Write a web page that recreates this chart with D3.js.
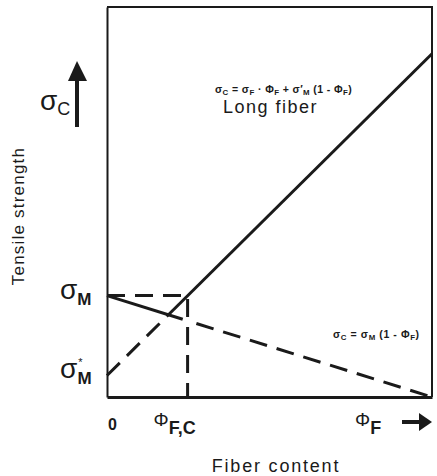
<!DOCTYPE html>
<html>
<head>
<meta charset="utf-8">
<script src="https://cdn.jsdelivr.net/npm/d3@7"></script>
<style>
  html, body { margin: 0; padding: 0; background: #fff; }
  svg { display: block; }
</style>
</head>
<body>
<svg id="chart" width="437" height="476" font-family="'Liberation Sans', Arial, Helvetica, sans-serif" fill="#1a1a1a"></svg>
<script>
// Fiber volume fraction (0..1) and strength levels (relative units)
const fiberFraction = [0, 1];
const strengthLevels = { sigmaM: 26, sigmaMStar: 5.5, sigmaF: 88 };
// Long-fiber composite line: sigma_M* at 0, sigma_F at full fiber content
const longFiberLine = [[0, 5.5], [1, 88]];
// Matrix-dominated line: sigma_M at 0, zero at full fiber content
const matrixLine = [[0, 26], [1, 0]];
// Where the two lines cross, and the critical fiber fraction
const crossingPhi = 0.189;
const criticalPhi = 0.248;
const xTickLabels = ["0", "Φ|F,C", "Φ|F"];

const svg = d3.select("#chart");
const ink = "#1a1a1a";

const x = d3.scaleLinear().domain(fiberFraction).range([107, 432]);
const y = d3.scaleLinear().domain([0, 100]).range([397, 7]);

const line = d3.line().x(d => x(d[0])).y(d => y(d[1]));

function along(seg, t) {
  // point on a segment at fiber fraction t
  const [a, b] = seg;
  const f = (t - a[0]) / (b[0] - a[0]);
  return [t, a[1] + (b[1] - a[1]) * f];
}

// Frame: bottom and left axes, top and right borders
svg.append("g")
  .attr("transform", `translate(0,${y(0)})`)
  .call(d3.axisBottom(x).tickValues([]).tickSizeOuter(0))
  .call(g => g.select(".domain").attr("stroke", ink).attr("stroke-width", 3));
svg.append("g")
  .attr("transform", `translate(${x(0)},0)`)
  .call(d3.axisLeft(y).tickValues([]).tickSizeOuter(0))
  .call(g => g.select(".domain").attr("stroke", ink).attr("stroke-width", 2));
svg.append("path")
  .attr("d", line([[0, 100], [1, 100], [1, 0]]))
  .attr("fill", "none").attr("stroke", ink).attr("stroke-width", 2);

const dash = "18,10";

// Long fiber: dashed until crossing, solid afterwards
svg.append("path")
  .attr("d", line([longFiberLine[0], along(longFiberLine, crossingPhi)]))
  .attr("fill", "none").attr("stroke", ink).attr("stroke-width", 3)
  .attr("stroke-dasharray", dash);
svg.append("path")
  .attr("d", line([along(longFiberLine, crossingPhi), longFiberLine[1]]))
  .attr("fill", "none").attr("stroke", ink).attr("stroke-width", 3);

// Matrix line: solid until critical fraction, dashed afterwards
svg.append("path")
  .attr("d", line([matrixLine[0], along(matrixLine, criticalPhi - 0.015)]))
  .attr("fill", "none").attr("stroke", ink).attr("stroke-width", 3);
svg.append("path")
  .attr("d", line([along(matrixLine, criticalPhi + 0.027), matrixLine[1]]))
  .attr("fill", "none").attr("stroke", ink).attr("stroke-width", 3)
  .attr("stroke-dasharray", dash);

// Dashed guides at sigma_M and the critical fraction
svg.append("path")
  .attr("d", line([[0, strengthLevels.sigmaM], [criticalPhi, strengthLevels.sigmaM], [criticalPhi, 0]]))
  .attr("fill", "none").attr("stroke", ink).attr("stroke-width", 3)
  .attr("stroke-dasharray", dash);

// Helper for text with a subscript
function subText(px, py, main, sub, size, subSize, opts = {}) {
  const t = svg.append("text").attr("x", px).attr("y", py)
    .attr("font-size", size).attr("font-weight", opts.weight || "normal");
  t.append("tspan").text(main);
  if (opts.sup) {
    t.append("tspan").attr("dx", 1).attr("dy", -12).attr("font-size", 11).text(opts.sup);
    t.append("tspan").attr("dx", -5).attr("dy", (opts.dy || 5) + 12).attr("font-size", subSize)
      .attr("font-weight", opts.subWeight || "bold").text(sub);
  } else {
    t.append("tspan").attr("dy", opts.dy || 5).attr("font-size", subSize)
      .attr("font-weight", opts.subWeight || "bold").text(sub);
  }
  return t;
}

// Y-level labels
subText(60, y(strengthLevels.sigmaM) + 3, "σ", "M", 28, 17, { dy: 6 });
subText(60, y(strengthLevels.sigmaMStar) + 2, "σ", "M", 28, 17, { dy: 6, sup: "*" });

// X tick labels
const tickPos = [0, criticalPhi, 1];
xTickLabels.forEach((lab, i) => {
  const [m, s] = lab.split("|");
  if (!s) {
    svg.append("text").attr("x", x(tickPos[i]) + 1).attr("y", 430)
      .attr("font-size", 16).attr("font-weight", "bold").text(m);
  } else {
    const px = i === 1 ? x(tickPos[i]) - 34 : x(tickPos[i]) - 77;
    subText(px, 426, m, s, 19, 18, { dy: 8 });
  }
});

// Arrow along fiber content
svg.append("path")
  .attr("d", `M${x(1) - 30},${422} L${x(1) - 12},${422}`)
  .attr("stroke", ink).attr("stroke-width", 4);
svg.append("path")
  .attr("d", `M${x(1) - 13},${413} L${x(1)},${422} L${x(1) - 13},${431} Z`)
  .attr("fill", ink);

// Arrow along composite strength
svg.append("path")
  .attr("d", `M77,127 L77,78`).attr("stroke", ink).attr("stroke-width", 4);
svg.append("path")
  .attr("d", `M68,81 L77,61 L87,81 Z`).attr("fill", ink);
subText(40, 110, "σ", "C", 28, 18, { dy: 5, subWeight: "normal" });

// Axis titles
svg.append("text")
  .attr("transform", "translate(24,216) rotate(-90)")
  .attr("text-anchor", "middle").attr("font-size", 17)
  .attr("letter-spacing", 1.2).text("Tensile strength");
svg.append("text")
  .attr("x", 276).attr("y", 472).attr("text-anchor", "middle")
  .attr("font-size", 18).attr("letter-spacing", 1.8).text("Fiber content");

// Equations
function eqText(px, py, parts, size) {
  const t = svg.append("text").attr("x", px).attr("y", py)
    .attr("font-size", size).attr("font-weight", "bold");
  parts.forEach((p, i) => {
    const isSub = i % 2 === 1;
    t.append("tspan").attr("dy", i === 0 ? 0 : (isSub ? 2 : -2))
      .attr("font-size", isSub ? size * 0.75 : size).text(p);
  });
  return t;
}
eqText(215, 93, ["σ", "C", " = σ", "F", " · Φ", "F", " + σ′", "M", " (1 - Φ", "F", ")"], 10.5)
  .attr("letter-spacing", 0.4);

svg.append("text").attr("x", 223).attr("y", 113)
  .attr("font-size", 18).attr("letter-spacing", 1.5).text("Long fiber");

eqText(333, 338, ["σ", "C", " = σ", "M", " (1 - Φ", "F", ")"], 10.5)
  .attr("letter-spacing", 0.6);
</script>
</body>
</html>
